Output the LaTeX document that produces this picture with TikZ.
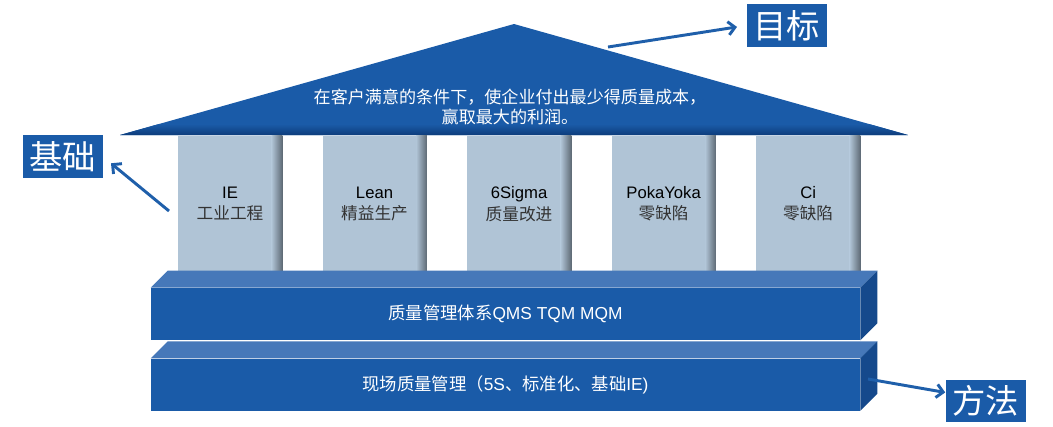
\documentclass[tikz,border=0pt]{standalone}
\usepackage{fontspec}
\setmainfont{Liberation Sans}
\newfontfamily\cjk{Noto Sans CJK SC}
\usetikzlibrary{arrows.meta,positioning,calc}
\definecolor{houseblue}{HTML}{1A5BA8}
\definecolor{roofdark}{HTML}{0C3A78}
\definecolor{beamtop}{HTML}{4678B9}
\definecolor{beamside}{HTML}{15498C}
\definecolor{pillarblue}{HTML}{B0C4D6}
\definecolor{pillarshade}{HTML}{5E6A75}
\definecolor{linkblue}{HTML}{1F5FAA}
\tikzset{pillar/.style={fill=pillarblue, minimum width=78pt, minimum height=102pt, inner sep=0pt, align=center, font=\fontsize{12.5}{16}\selectfont},
	beam/.style={fill=houseblue, minimum width=531.75pt, minimum height=39pt, inner sep=0pt, text=white, font=\fontsize{13}{15}\selectfont},
	tagbox/.style={fill=houseblue, text=white, minimum width=60pt, minimum height=32pt, inner sep=0pt, font=\fontsize{25}{25}\cjk},
	link/.style={draw=linkblue, line width=2.2pt, -{Straight Barb[length=5pt,width=10pt]}}}

\begin{document}
\begin{tikzpicture}[x=0.75pt, y=-0.75pt, node distance=30pt]
\useasboundingbox (0,0) rectangle (1053,426);
% roof
\coordinate (apex) at (514,24);
\coordinate (eaveL) at (120,135);
\coordinate (eaveR) at (908,135);
\fill[houseblue] (eaveL) -- (apex) -- (eaveR) -- cycle;
\begin{scope}
\clip (eaveL) -- (apex) -- (eaveR) -- cycle;
\shade[top color=houseblue, bottom color=roofdark] (100,124) rectangle (930,136);
\end{scope}
\node[text=white, align=center, font=\fontsize{12.8}{15}\cjk] (goal) at (510,107) {在客户满意的条件下，使企业付出最少得质量成本，\\赢取最大的利润。};
% pillars
\node[pillar] (p1) at (230,204) {IE\\{\color{black!80}\cjk 工业工程}};
\node[pillar, right=of p1] (p2) {Lean\\{\color{black!80}\cjk 精益生产}};
\node[pillar, right=of p2] (p3) {6Sigma\\{\color{black!80}\cjk 质量改进}};
\node[pillar, right=of p3] (p4) {PokaYoka\\{\color{black!80}\cjk 零缺陷}};
\node[pillar, right=of p4] (p5) {Ci\\{\color{black!80}\cjk 零缺陷}};
\foreach \p in {p1,p2,p3,p4,p5}
	\shade[left color=pillarblue, right color=pillarshade] ([xshift=-8pt]\p.north east) rectangle (\p.south east);
% beams
\node[beam] (qms) at (505.5,314) {{\cjk 质量管理体系}QMS TQM MQM};
\node[beam, below=13.5pt of qms] (site) {{\cjk 现场质量管理（}5S{\cjk 、标准化、基础}IE)};
\foreach \b in {qms,site}{
	\fill[beamtop] (\b.north west) -- ++(17,-17) -- ([shift={(17,-17)}]\b.north east) -- (\b.north east) -- cycle;
	\fill[beamside] (\b.north east) -- ++(17,-17) -- ([shift={(17,-17)}]\b.south east) -- (\b.south east) -- cycle;
}
% tags
\node[tagbox] (mubiao) at (786.5,25.5) {目标};
\node[tagbox] (jichu) at (62.5,156.5) {基础};
\node[tagbox] (fangfa) at (985.5,401) {方法};
\coordinate (roofpt) at (608,47);
\coordinate (pillarpt) at (169,211);
\coordinate (beampt) at (868,379);
\draw[link, shorten >=7pt] (roofpt) -- (mubiao.west);
\draw[link, shorten >=8pt] (pillarpt) -- (jichu.east);
\draw[link] (beampt) -- (fangfa.168);
\end{tikzpicture}
\end{document}
